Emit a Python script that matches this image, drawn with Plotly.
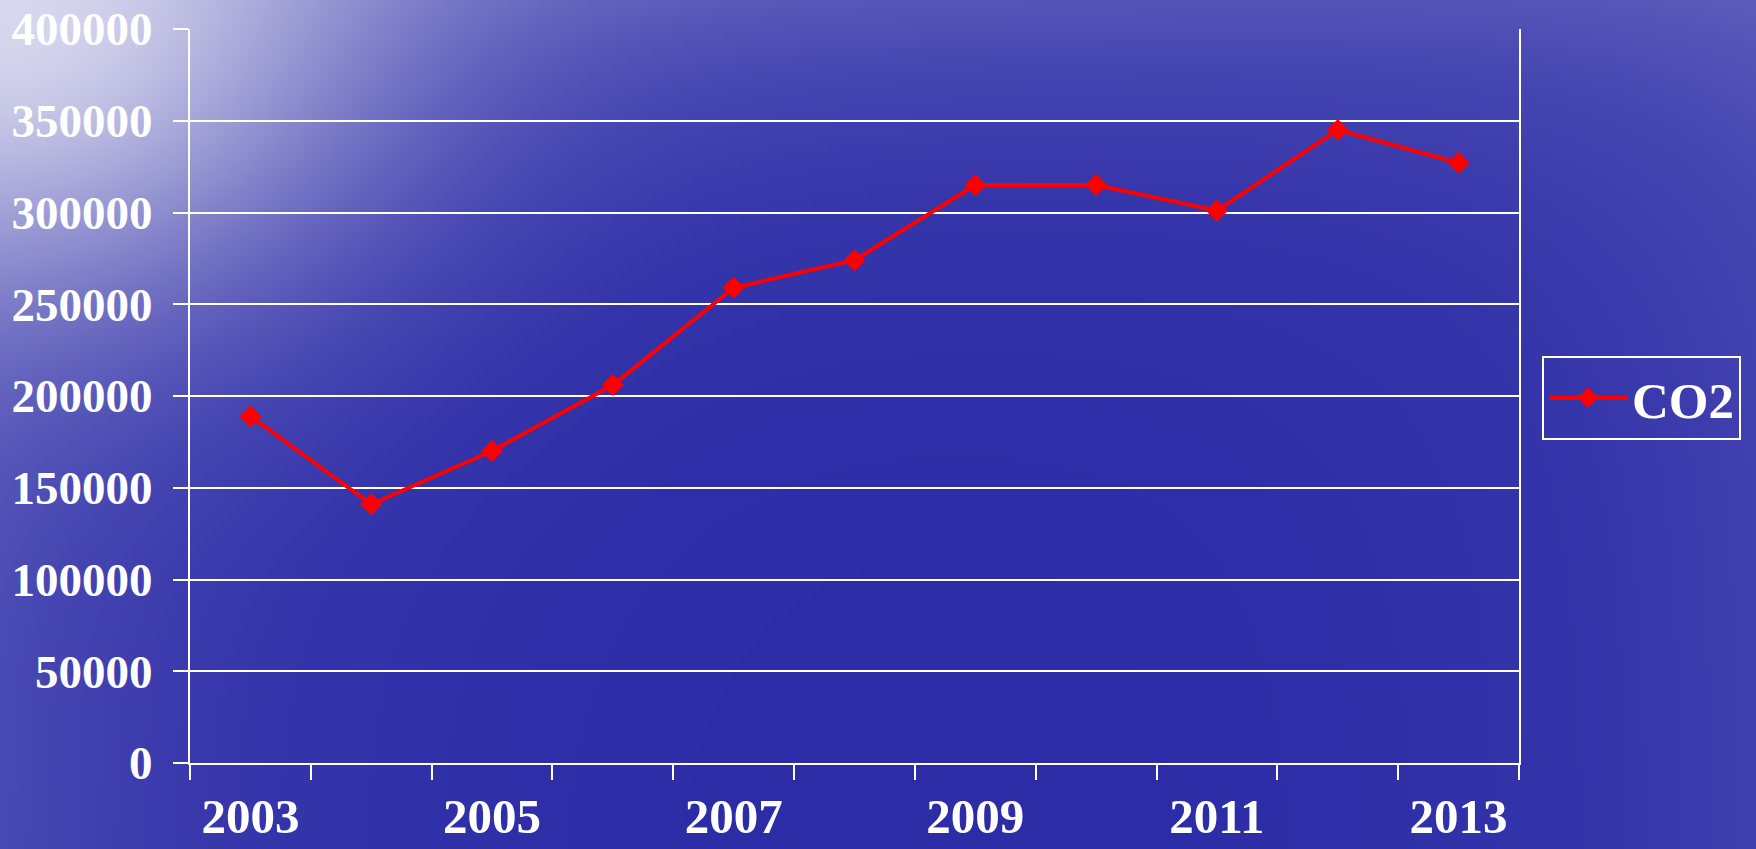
import math
import zlib
import struct
import base64
import plotly.graph_objects as go

# ---- data ----
years = [2003, 2004, 2005, 2006, 2007, 2008, 2009, 2010, 2011, 2012, 2013]
co2_values = [189000, 141000, 170000, 206000, 259000, 274000, 315000, 315000, 301000, 345000, 327000]
year_labels = [2003, 2005, 2007, 2009, 2011, 2013]
series_name = "CO2"

W, H = 1756, 849


def make_background(w, h):
    base = (42, 42, 166)
    light = (215, 215, 238)
    rows = []
    for j in range(h):
        row = bytearray([0])
        Y = j / (h - 1) * H
        for i in range(w):
            X = i / (w - 1) * W
            g1 = math.exp(-((X / 360.0) ** 2 + (Y / 290.0) ** 2))
            g2 = 0.30 * math.exp(-Y / 150.0) * (1 - 0.35 * X / W)
            g3 = 0.12 * math.exp(-(W - X) / 250.0)
            g4 = 0.18 * math.exp(-X / 250.0)
            t = 1 - (1 - g1) * (1 - g2) * (1 - g3) * (1 - g4)
            row += bytes(int(round(base[k] + t * (light[k] - base[k]))) for k in range(3))
        rows.append(bytes(row))
    raw = b"".join(rows)

    def chunk(tag, data):
        c = struct.pack(">I", len(data)) + tag + data
        return c + struct.pack(">I", zlib.crc32(tag + data) & 0xFFFFFFFF)

    png = (b"\x89PNG\r\n\x1a\n"
           + chunk(b"IHDR", struct.pack(">IIBBBBB", w, h, 8, 2, 0, 0, 0))
           + chunk(b"IDAT", zlib.compress(raw, 9))
           + chunk(b"IEND", b""))
    return "data:image/png;base64," + base64.b64encode(png).decode()


bg = make_background(220, 106)

boundaries = [y - 0.5 for y in years] + [years[-1] + 0.5]

font_family = "Liberation Serif, Times New Roman, serif"

fig = go.Figure()
fig.add_trace(go.Scatter(
    x=years, y=co2_values, name=series_name, mode="lines+markers",
    line=dict(color="#ff0000", width=4),
    marker=dict(symbol="diamond", size=17, color="#ff0000"),
))

fig.update_layout(
    width=W, height=H,
    margin=dict(l=0, r=0, t=0, b=0, autoexpand=False),
    paper_bgcolor="rgb(42,42,166)",
    plot_bgcolor="rgba(0,0,0,0)",
    font=dict(family=font_family, size=47, color="white", weight="bold"),
    showlegend=True,
    legend=dict(
        x=1542 / W, y=1 - 356 / H, xanchor="left", yanchor="top",
        bgcolor="rgba(0,0,0,0)", bordercolor="white", borderwidth=2,
        itemwidth=78,
        font=dict(family=font_family, size=51, color="white", weight="bold"),
    ),
    images=[dict(source=bg, xref="paper", yref="paper", x=0, y=1,
                 sizex=1, sizey=1, sizing="stretch", layer="below",
                 xanchor="left", yanchor="top")],
    xaxis=dict(
        domain=[190 / W, 1519 / W],
        range=[boundaries[0], boundaries[-1]],
        tickmode="array", tickvals=year_labels,
        tickfont=dict(family=font_family, size=49, color="white", weight="bold"),
        ticks="", ticklabelstandoff=9, automargin=False,
        showgrid=False, zeroline=False,
        showline=True, linecolor="white", linewidth=2,
        minor=dict(tickmode="array", tickvals=boundaries, ticks="outside",
                   ticklen=15, tickwidth=2, tickcolor="white", showgrid=False),
    ),
    yaxis=dict(
        domain=[1 - 763 / H, 1 - 29 / H],
        range=[0, 400000], dtick=50000, tickformat="d",
        ticks="outside", ticklen=15, tickwidth=2, tickcolor="white",
        ticklabelstandoff=11, automargin=False,
        showgrid=True, gridcolor="white", gridwidth=2,
        zeroline=False,
        showline=True, linecolor="white", linewidth=2, mirror=True,
    ),
)

fig.write_html("out.html", config={"displayModeBar": False},
               post_script="document.body.style.margin='0';document.body.style.overflow='hidden';")
